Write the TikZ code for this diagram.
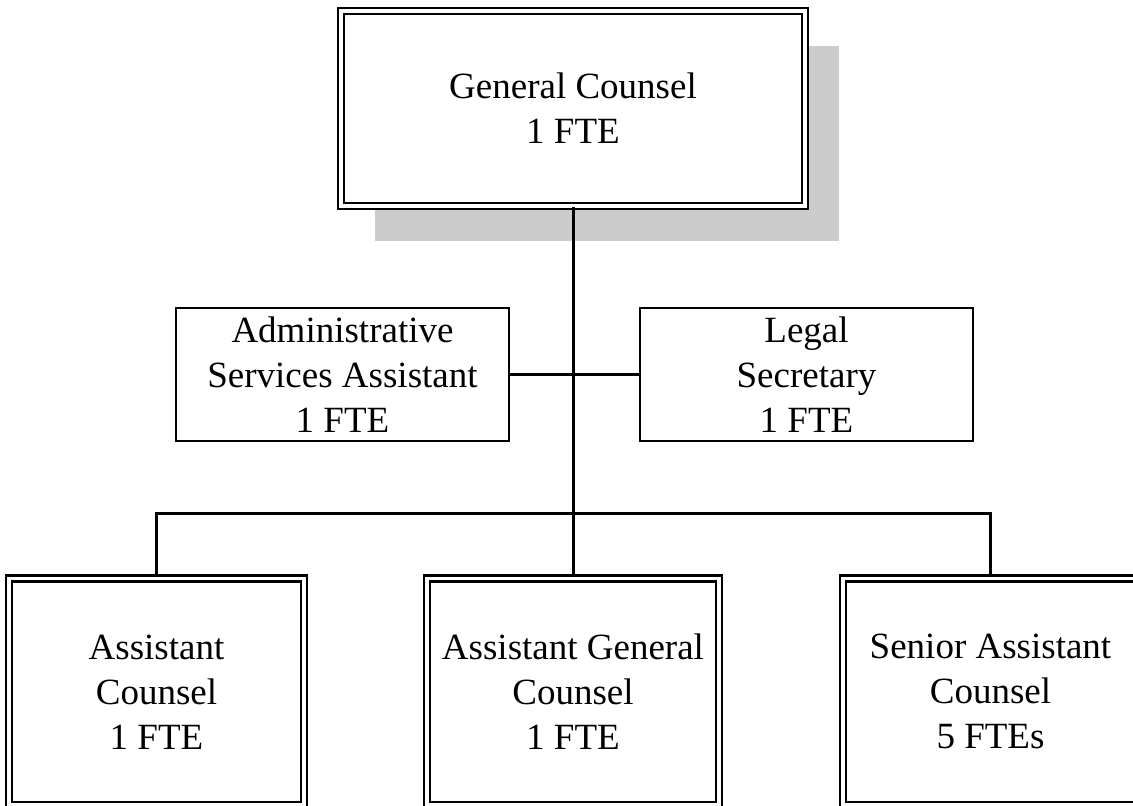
\documentclass[tikz,border=0pt]{standalone}
\usepackage{fontspec}
\setmainfont{Liberation Serif}
\usetikzlibrary{positioning,shadows}
\definecolor{shadegray}{HTML}{CCCCCC}

\begin{document}
\begin{tikzpicture}[x=1pt,y=-1pt,on grid,
  font=\fontsize{37}{45}\selectfont,
  post/.style={draw,fill=white,line width=2pt,align=center,inner sep=0pt},
  head/.style={post,double,line width=2.5pt,double distance=3.5pt},
  link/.style={line width=3pt}]
  \clip (0,0) rectangle (1133,806);
  \path
  node[head,minimum width=464pt,minimum height=195pt,
       drop shadow={shadow xshift=34pt,shadow yshift=-35pt,fill=shadegray,opacity=1}]
       (gc) at (573,108.5) {General Counsel\\1 FTE}
  node[post,minimum width=333pt,minimum height=133pt,below left=266pt and 230.5pt of gc]
       (asa) {Administrative\\Services Assistant\\1 FTE}
  node[post,minimum width=333pt,minimum height=133pt,right=464pt of asa]
       (ls) {Legal\\Secretary\\1 FTE}
  node[head,minimum width=292pt,minimum height=226.5pt,below=583.25pt of gc]
       (agc) {Assistant General\\Counsel\\1 FTE}
  node[head,minimum width=295pt,minimum height=226.5pt,left=416.5pt of agc]
       (ac) {Assistant\\Counsel\\1 FTE}
  node[head,minimum width=295pt,minimum height=226.5pt,right=417.5pt of agc]
       (sac) {Senior Assistant\\Counsel\\5 FTEs}
  ;
  \coordinate (bus) at (573,513);
  \draw[link] (gc.south) -- (agc.north);
  \draw[link] (asa.east) -- (ls.west);
  \draw[link] (ac.north) |- (bus) -| (sac.north);
\end{tikzpicture}
\end{document}
